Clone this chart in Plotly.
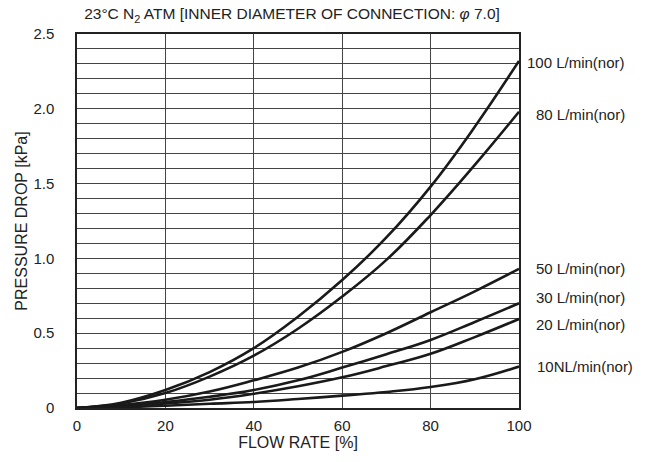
import plotly.graph_objects as go

flow = [0, 10, 20, 30, 40, 50, 60, 70, 80, 90, 100]
s100 = [0, 0.035, 0.12, 0.24, 0.40, 0.61, 0.855, 1.14, 1.48, 1.88, 2.32]
s80 = [0, 0.03, 0.10, 0.21, 0.35, 0.53, 0.745, 0.99, 1.29, 1.625, 1.98]
s50 = [0, 0.02, 0.055, 0.11, 0.185, 0.27, 0.375, 0.50, 0.64, 0.78, 0.93]
s30 = [0, 0.012, 0.04, 0.075, 0.12, 0.185, 0.27, 0.36, 0.455, 0.575, 0.70]
s20 = [0, 0.01, 0.03, 0.055, 0.095, 0.145, 0.205, 0.28, 0.362, 0.474, 0.595]
s10 = [0, 0.005, 0.015, 0.028, 0.04, 0.06, 0.083, 0.107, 0.14, 0.192, 0.277]

series = [s100, s80, s50, s30, s20, s10]
labels = ["100 L/min(nor)", "80 L/min(nor)", "50 L/min(nor)",
          "30 L/min(nor)", "20 L/min(nor)", "10NL/min(nor)"]
label_y = [2.31, 1.96, 0.93, 0.74, 0.56, 0.28]
label_dx = [6, 15, 15, 15, 15, 16]

ytick_vals = [0, 0.5, 1.0, 1.5, 2.0, 2.5]
ytick_text = ["0", "0.5", "1.0", "1.5", "2.0", "2.5"]
xtick_vals = [0, 20, 40, 60, 80, 100]

FONT = "Liberation Sans, Arial, sans-serif"
TXT = "#222"

fig = go.Figure()
for s in series:
    fig.add_trace(go.Scatter(x=flow, y=s, mode="lines",
                             line=dict(color="#1a1a1a", width=2.6, shape="spline", smoothing=1.2),
                             showlegend=False, hoverinfo="skip"))

for lab, ly, dx in zip(labels, label_y, label_dx):
    fig.add_annotation(x=100, y=ly, xref="x", yref="y", text=lab, showarrow=False,
                       xanchor="left", yanchor="middle", xshift=dx,
                       font=dict(size=15, color=TXT, family=FONT))

fig.update_layout(
    width=645, height=462,
    margin=dict(l=77, r=126, t=34, b=54, autoexpand=False),
    paper_bgcolor="white", plot_bgcolor="white",
    font=dict(family=FONT, size=15, color=TXT),
    title=dict(text="23°C N<sub>2</sub> ATM [INNER DIAMETER OF CONNECTION: <i>φ</i> 7.0]",
               x=292 / 645, xanchor="center", y=1 - 14 / 462, yanchor="middle",
               font=dict(size=15.5, family=FONT, color=TXT)),
)
fig.update_xaxes(range=[0, 100], tickvals=xtick_vals, showgrid=True,
                 gridcolor="#444", gridwidth=1, showline=True, linecolor="#222",
                 linewidth=1.5, mirror=True, ticks="", zeroline=False,
                 automargin=False, ticklabelstandoff=3,
                 title=dict(text="FLOW RATE [%]", standoff=1, font=dict(size=16)),
                 tickfont=dict(size=15))
fig.update_yaxes(range=[0, 2.5], tickvals=ytick_vals, ticktext=ytick_text,
                 showgrid=True, gridcolor="#444", gridwidth=1,
                 minor=dict(dtick=0.1, showgrid=True, gridcolor="#444", gridwidth=1),
                 showline=True, linecolor="#222", linewidth=1.5, mirror=True,
                 ticks="", zeroline=False, automargin=False, ticklabelstandoff=18,
                 title=dict(text="PRESSURE DROP [kPa]", standoff=2, font=dict(size=16)),
                 tickfont=dict(size=15))

fig.write_html("out.html", config={"displayModeBar": False},
               post_script="document.body.style.margin='0';")
